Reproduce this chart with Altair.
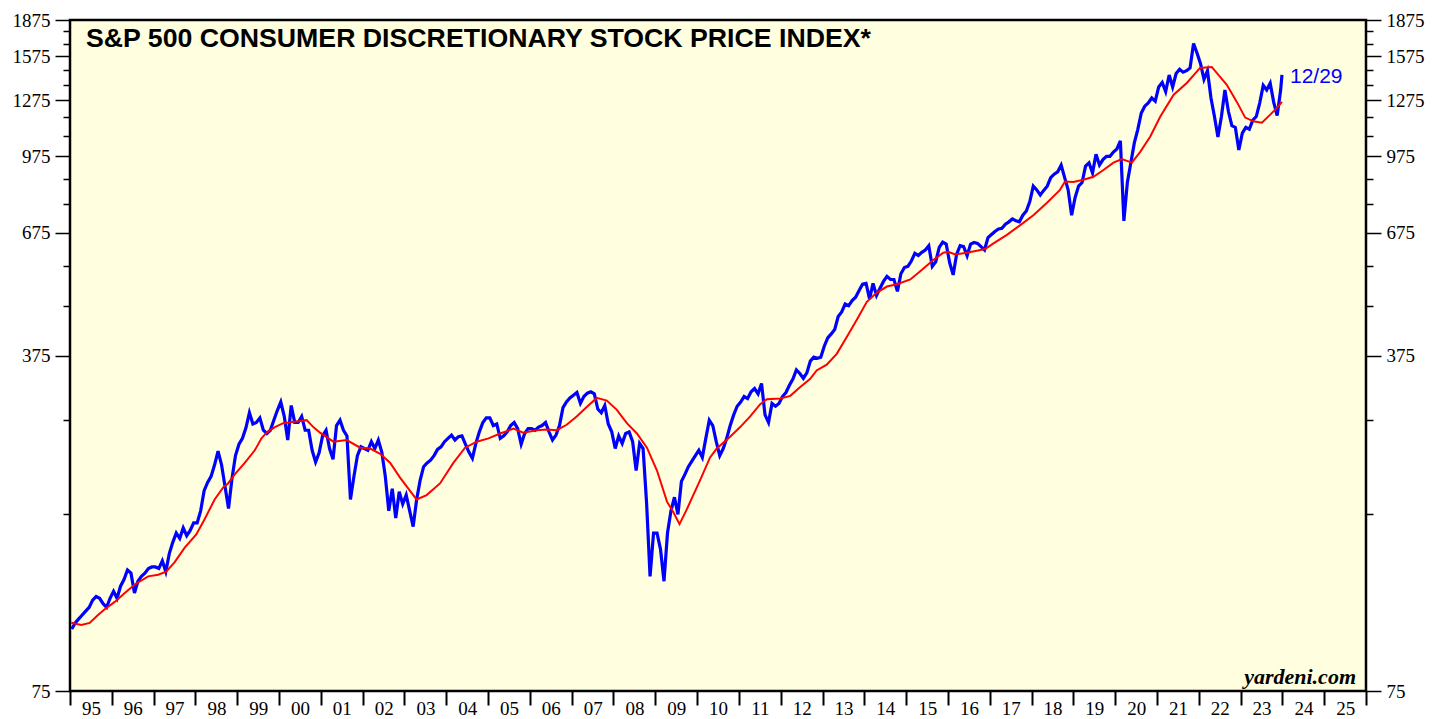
import altair as alt
import pandas as pd

# ---------------- data ----------------
TITLE = "S&P 500 CONSUMER DISCRETIONARY STOCK PRICE INDEX*"
LAST_LABEL = "12/29"

# Blue: monthly readings of the index (mid-month), per year
blue_1995 = [101, 104, 106, 108, 110, 112, 116, 118, 117, 114, 112, 117]
blue_1996 = [121, 117, 124, 128, 134, 132, 120, 127, 130, 132, 135, 136]
blue_1997 = [136, 135, 140, 133, 145, 153, 160, 156, 164, 158, 162, 168]
blue_1998 = [168, 178, 196, 204, 210, 222, 237, 222, 200, 180, 208, 232]
blue_1999 = [245, 252, 265, 285, 270, 272, 278, 262, 258, 262, 275, 288]
blue_2000 = [300, 280, 250, 295, 272, 272, 280, 262, 262, 238, 225, 235]
blue_2001 = [255, 262, 240, 228, 268, 275, 262, 255, 188, 210, 232, 242]
blue_2002 = [240, 238, 248, 240, 250, 236, 210, 178, 198, 172, 195, 184]
blue_2003 = [192, 178, 165, 188, 206, 220, 224, 227, 232, 239, 242, 248]
blue_2004 = [252, 256, 250, 254, 255, 245, 236, 229, 246, 260, 272, 278]
blue_2005 = [278, 268, 270, 252, 255, 260, 268, 272, 264, 245, 258, 264]
blue_2006 = [264, 262, 266, 268, 272, 260, 250, 256, 268, 292, 300, 306]
blue_2007 = [310, 314, 298, 308, 313, 315, 312, 290, 285, 295, 270, 260]
blue_2008 = [240, 255, 246, 258, 260, 248, 216, 246, 240, 185, 130, 160]
blue_2009 = [160, 148, 127, 160, 178, 190, 175, 205, 212, 220, 226, 232]
blue_2010 = [238, 230, 252, 275, 268, 248, 232, 240, 252, 268, 282, 294]
blue_2011 = [300, 308, 305, 315, 320, 312, 328, 282, 272, 298, 294, 298]
blue_2012 = [308, 314, 325, 335, 350, 344, 336, 345, 365, 372, 370, 372]
blue_2013 = [392, 408, 416, 425, 452, 462, 480, 476, 488, 496, 512, 528]
blue_2014 = [530, 492, 530, 500, 518, 535, 548, 540, 540, 510, 555, 572]
blue_2015 = [575, 590, 612, 606, 615, 622, 635, 575, 588, 630, 646, 640]
blue_2016 = [585, 552, 610, 635, 632, 605, 640, 645, 642, 632, 622, 660]
blue_2017 = [670, 680, 688, 690, 704, 712, 722, 716, 712, 735, 750, 785]
blue_2018 = [845, 830, 810, 828, 845, 880, 895, 905, 935, 880, 830, 735]
blue_2019 = [800, 845, 860, 930, 945, 900, 985, 935, 960, 975, 975, 995]
blue_2020 = [1010, 1050, 715, 860, 945, 1040, 1110, 1200, 1240, 1260, 1290, 1270]
blue_2021 = [1360, 1390, 1330, 1440, 1360, 1450, 1480, 1460, 1470, 1490, 1675, 1600]
blue_2022 = [1520, 1410, 1470, 1290, 1180, 1070, 1180, 1340, 1210, 1130, 1120, 1005]
blue_2023 = [1090, 1120, 1110, 1160, 1180, 1260, 1370, 1340, 1385, 1265, 1185, 1340]
last_t = 2023.99
last_value = 1441

# Red: 52-week moving average, (decimal year, value) readings
red_t = [1995.03, 1995.27, 1995.47, 1995.67, 1995.83, 1996.07, 1996.31, 1996.55, 1996.87,
         1997.11, 1997.30, 1997.50, 1997.74, 1998.02, 1998.22, 1998.46, 1998.66, 1998.78,
         1998.94, 1999.18, 1999.42, 1999.58, 1999.70, 1999.90, 2000.10, 2000.38, 2000.66,
         2000.82, 2000.98, 2001.30, 2001.62, 2001.94, 2002.18, 2002.42, 2002.66, 2002.89,
         2003.17, 2003.29, 2003.53, 2003.85, 2004.17, 2004.45, 2004.73, 2005.01, 2005.29,
         2005.61, 2005.84, 2006.17, 2006.40, 2006.64, 2006.88, 2007.12, 2007.36, 2007.60,
         2007.84, 2008.08, 2008.32, 2008.56, 2008.80, 2009.04, 2009.28, 2009.43, 2009.58,
         2009.75, 2010.07, 2010.31, 2010.47, 2010.79, 2011.03, 2011.27, 2011.51, 2011.67,
         2011.99, 2012.23, 2012.46, 2012.70, 2012.86, 2013.10, 2013.34, 2013.58, 2013.82,
         2014.06, 2014.30, 2014.54, 2014.78, 2015.10, 2015.33, 2015.65, 2015.89, 2016.01,
         2016.17, 2016.45, 2016.69, 2016.89, 2017.09, 2017.41, 2017.73, 2018.05, 2018.37,
         2018.68, 2018.80, 2019.00, 2019.24, 2019.48, 2019.72, 2019.96, 2020.16, 2020.40,
         2020.60, 2020.84, 2021.08, 2021.40, 2021.72, 2022.03, 2022.31, 2022.51, 2022.67,
         2022.91, 2023.11, 2023.31, 2023.51, 2023.71, 2023.87, 2023.99]
red_v = [104, 103, 104, 108, 111, 115, 120, 125, 130,
         131, 133, 139, 149, 159, 171, 188, 199, 203,
         212, 224, 238, 252, 259, 266, 271, 273, 275,
         266, 259, 248, 250, 241, 240, 234, 224, 209,
         194, 188, 192, 203, 224, 241, 248, 252, 258,
         264, 259, 262, 263, 262, 269, 280, 293, 306,
         302, 289, 271, 258, 241, 216, 186, 177, 167,
         179, 206, 230, 240, 254, 266, 280, 297, 304,
         305, 309, 322, 335, 349, 359, 378, 410, 445,
         485, 507, 522, 528, 540, 561, 593, 614, 617,
         609, 614, 620, 625, 642, 669, 701, 736, 780,
         830, 864, 862, 871, 884, 913, 946, 962, 946,
         996, 1072, 1180, 1310, 1388, 1490, 1497, 1427, 1374,
         1266, 1174, 1153, 1146, 1191, 1230, 1266]
assert len(red_t) == len(red_v)

y_tick_values = list(range(75, 1876, 100))
x_tick_values = list(range(1995, 2027))

# ---------------- tables ----------------
blue_by_year = {
    1995: blue_1995, 1996: blue_1996, 1997: blue_1997, 1998: blue_1998, 1999: blue_1999,
    2000: blue_2000, 2001: blue_2001, 2002: blue_2002, 2003: blue_2003, 2004: blue_2004,
    2005: blue_2005, 2006: blue_2006, 2007: blue_2007, 2008: blue_2008, 2009: blue_2009,
    2010: blue_2010, 2011: blue_2011, 2012: blue_2012, 2013: blue_2013, 2014: blue_2014,
    2015: blue_2015, 2016: blue_2016, 2017: blue_2017, 2018: blue_2018, 2019: blue_2019,
    2020: blue_2020, 2021: blue_2021, 2022: blue_2022, 2023: blue_2023,
}
rows = []
for yr, vals in blue_by_year.items():
    for m, v in enumerate(vals):
        rows.append({"t": yr + (m + 0.5) / 12.0, "v": v})
rows.append({"t": last_t, "v": last_value})
blue_df = pd.DataFrame(rows)
red_df = pd.DataFrame({"t": red_t, "v": red_v})
last_df = pd.DataFrame({"t": [last_t], "v": [last_value], "label": [LAST_LABEL]})

SERIF = "Liberation Serif"
SANS = "Liberation Sans"

xscale = alt.Scale(domain=[1995, 2026], nice=False, zero=False)
yscale = alt.Scale(type="log", domain=[75, 1875], nice=False)

major = "(datum.value - 75) % 300 == 0"
tick_size = {"condition": {"test": major, "value": 15}, "value": 7}

x_axis = alt.Axis(
    values=x_tick_values,
    labelExpr="datum.value < 2026 ? substring(toString(datum.value), 2, 4) : ''",
    labelOffset=21, tickSize=14, tickWidth=2, tickColor="black",
    labelPadding=-6, labelFont=SERIF, labelFontSize=19, labelColor="black",
    labelAngle=0, labelBaseline="top", labelAlign="center",
    labelOverlap=False, labelFlush=False, labelBound=False,
    domain=False, grid=False, title=None,
)


def y_axis(orient):
    return alt.Axis(
        orient=orient, values=y_tick_values, format="d",
        labelExpr=f"{major} ? datum.label : ''",
        tickSize=tick_size, tickWidth=1.5, tickColor="black",
        labelPadding=5, labelFont=SERIF, labelFontSize=19, labelColor="black",
        labelBaseline="middle", labelOverlap=False, labelFlush=False, labelBound=False,
        domain=False, grid=False, title=None,
    )


blue = alt.Chart(blue_df).mark_line(color="#0000ff", strokeWidth=3.2).encode(
    x=alt.X("t:Q", scale=xscale, axis=x_axis),
    y=alt.Y("v:Q", scale=yscale, axis=y_axis("left")),
)
red = alt.Chart(red_df).mark_line(color="#ff0000", strokeWidth=2).encode(
    x=alt.X("t:Q", scale=xscale, axis=x_axis),
    y=alt.Y("v:Q", scale=yscale, axis=y_axis("right")),
)
label = alt.Chart(last_df).mark_text(
    align="left", baseline="middle", dx=8, dy=2, font=SANS, fontSize=21, color="#0000ff"
).encode(
    x=alt.X("t:Q", scale=xscale, axis=x_axis),
    y=alt.Y("v:Q", scale=yscale, axis=None),
    text="label:N",
)
title = alt.Chart(pd.DataFrame({"text": [TITLE]})).mark_text(
    align="left", baseline="alphabetic", font=SANS, fontWeight="bold", fontSize=26.7, color="black"
).encode(x=alt.value(16), y=alt.value(27), text="text:N")
yardeni = alt.Chart(pd.DataFrame({"text": ["yardeni.com"]})).mark_text(
    align="right", baseline="alphabetic", font=SERIF, fontWeight="bold", fontStyle="italic",
    fontSize=22, color="black"
).encode(x=alt.value(1286), y=alt.value(664), text="text:N")

chart = (
    alt.layer(blue, red, label, title, yardeni)
    .resolve_axis(y="independent")
    .properties(
        width=1296, height=671,
        background="white",
        autosize=alt.AutoSizeParams(type="none"),
        padding={"left": 62, "top": 12, "right": 60, "bottom": 28},
    )
    .configure_view(fill="#ffffe0", stroke="black", strokeWidth=2.5)
)

chart.save("out.html", embed_options={"renderer": "svg", "actions": False})
